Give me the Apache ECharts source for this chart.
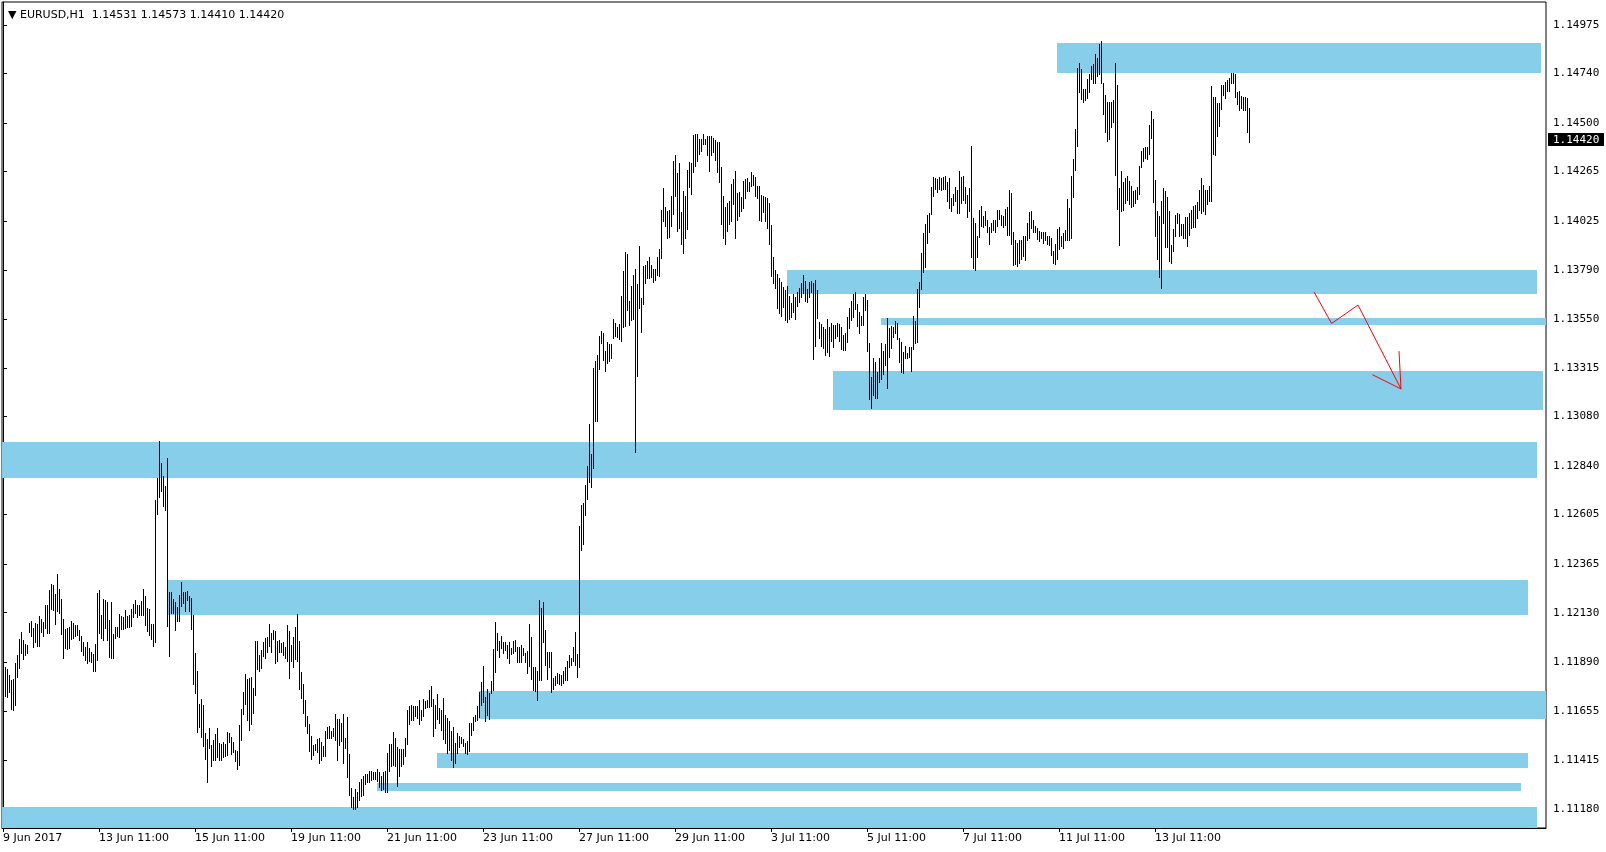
<!DOCTYPE html>
<html><head><meta charset="utf-8">
<script src="https://cdn.jsdelivr.net/npm/echarts@6/dist/echarts.min.js"></script>
<style>html,body{margin:0;padding:0;background:#fff}#chart{width:1606px;height:852px}</style>
</head><body><div id="chart"></div>
<script>
const chartTitle = '\u25BC EURUSD,H1  1.14531 1.14573 1.14410 1.14420';
const lastClose = 1.14420;
const xTickIndex = [0, 48, 96, 144, 192, 240, 288, 336, 384, 432, 480, 528, 576];
const xTickLabels = ['9 Jun 2017', '13 Jun 11:00', '15 Jun 11:00', '19 Jun 11:00', '21 Jun 11:00', '23 Jun 11:00', '27 Jun 11:00', '29 Jun 11:00', '3 Jul 11:00', '5 Jul 11:00', '7 Jul 11:00', '11 Jul 11:00', '13 Jul 11:00'];
const yTicks = [1.11180, 1.11415, 1.11655, 1.11890, 1.12130, 1.12365, 1.12605, 1.12840, 1.13080, 1.13315, 1.13550, 1.13790, 1.14025, 1.14265, 1.14500, 1.14740, 1.14975];

// hourly bar highs (bar 0 = 9 Jun 11:00)
const highs = [
1.11926,1.11868,1.11857,1.11830,1.11802,1.11810,1.11886,1.11926,1.12004,1.12039,
1.11999,1.11978,1.11975,1.12080,1.12091,1.12055,1.12078,1.12076,1.12115,1.12099,
1.12083,1.12165,1.12165,1.12238,1.12270,1.12262,1.12221,1.12318,1.12246,1.12197,
1.12100,1.12052,1.12055,1.12063,1.12091,1.12080,1.12071,1.12071,1.12047,1.12017,
1.11988,1.11962,1.11988,1.11959,1.11938,1.11931,1.11981,1.12225,1.12241,1.12120,
1.12197,1.12192,1.12181,1.12096,1.12184,1.12028,1.12063,1.12060,1.12125,1.12115,
1.12109,1.12144,1.12115,1.12120,1.12149,1.12173,1.12192,1.12165,1.12165,1.12189,
1.12246,1.12212,1.12152,1.12149,1.12076,1.12076,1.12676,1.12781,1.12959,1.12857,
1.12792,1.12744,1.12878,1.12229,1.12229,1.12197,1.12181,1.12160,1.12217,1.12278,
1.12229,1.12229,1.12233,1.12213,1.12200,1.12120,1.11934,1.11849,1.11689,1.11713,
1.11684,1.11547,1.11518,1.11571,1.11488,1.11515,1.11544,1.11571,1.11499,1.11494,
1.11504,1.11496,1.11552,1.11547,1.11528,1.11504,1.11467,1.11459,1.11588,1.11665,
1.11746,1.11834,1.11809,1.11813,1.11818,1.11765,1.11994,1.11994,1.11926,1.11950,
1.11988,1.12007,1.12012,1.12076,1.12031,1.12047,1.12042,1.11991,1.11999,1.11983,
1.11986,1.11964,1.12069,1.12040,1.11972,1.12013,1.12061,1.12122,1.11992,1.11843,
1.11787,1.11706,1.11629,1.11590,1.11532,1.11488,1.11496,1.11517,1.11525,1.11504,
1.11485,1.11556,1.11577,1.11580,1.11556,1.11572,1.11642,1.11617,1.11617,1.11596,
1.11642,1.11525,1.11625,1.11448,1.11283,1.11238,1.11279,1.11263,1.11311,1.11324,
1.11338,1.11348,1.11348,1.11364,1.11364,1.11359,1.11359,1.11375,1.11359,1.11338,
1.11359,1.11363,1.11451,1.11493,1.11493,1.11553,1.11524,1.11480,1.11469,1.11469,
1.11469,1.11524,1.11658,1.11679,1.11682,1.11677,1.11677,1.11677,1.11706,1.11661,
1.11711,1.11703,1.11708,1.11756,1.11775,1.11711,1.11684,1.11737,1.11671,1.11659,
1.11719,1.11635,1.11619,1.11606,1.11558,1.11579,1.11501,1.11546,1.11533,1.11530,
1.11517,1.11501,1.11509,1.11595,1.11598,1.11627,1.11635,1.11679,1.11748,1.11796,
1.11872,1.11721,1.11761,1.11743,1.11800,1.11953,1.12084,1.12034,1.11993,1.12017,
1.11990,1.11987,1.11974,1.11990,1.11958,1.11993,1.11998,1.11963,1.11966,1.11974,
1.11958,1.11934,1.11945,1.12075,1.12014,1.11869,1.11866,1.11850,1.12192,1.12155,
1.12180,1.12046,1.11942,1.11942,1.11940,1.11816,1.11824,1.11837,1.11832,1.11829,
1.11848,1.11869,1.11896,1.11925,1.11911,1.11965,1.12038,1.11929,1.12550,1.12650,
1.12659,1.12747,1.12838,1.13043,1.12898,1.13315,1.13346,1.13379,1.13470,1.13492,
1.13486,1.13395,1.13441,1.13432,1.13432,1.13552,1.13533,1.13515,1.13528,1.13661,
1.13786,1.13877,1.13864,1.13637,1.13713,1.13764,1.13795,1.13722,1.13906,1.13655,
1.13810,1.13815,1.13833,1.13850,1.13815,1.13795,1.13795,1.13850,1.13891,1.14079,
1.14188,1.14095,1.14073,1.14077,1.14146,1.14315,1.14346,1.14258,1.14309,1.14069,
1.14169,1.14149,1.14273,1.14313,1.14309,1.14440,1.14446,1.14446,1.14422,1.14422,
1.14446,1.14423,1.14438,1.14435,1.14435,1.14426,1.14418,1.14410,1.14407,1.14289,
1.14147,1.14096,1.14112,1.14123,1.14204,1.14230,1.14268,1.14160,1.14168,1.14144,
1.14220,1.14230,1.14233,1.14214,1.14262,1.14249,1.14241,1.14197,1.14196,1.14152,
1.14149,1.14144,1.14136,1.14115,1.14007,1.13851,1.13789,1.13770,1.13749,1.13730,
1.13705,1.13693,1.13712,1.13665,1.13628,1.13672,1.13660,1.13680,1.13704,1.13728,
1.13765,1.13738,1.13697,1.13733,1.13736,1.13725,1.13741,1.13693,1.13539,1.13526,
1.13515,1.13504,1.13552,1.13515,1.13531,1.13523,1.13523,1.13534,1.13526,1.13515,
1.13475,1.13482,1.13563,1.13607,1.13640,1.13671,1.13684,1.13624,1.13587,1.13566,
1.13656,1.13673,1.13644,1.13434,1.13273,1.13361,1.13342,1.13294,1.13361,1.13434,
1.13397,1.13431,1.13555,1.13510,1.13518,1.13511,1.13542,1.13531,1.13458,1.13439,
1.13390,1.13421,1.13385,1.13418,1.13415,1.13566,1.13542,1.13695,1.13732,1.13869,
1.13966,1.14011,1.14055,1.14063,1.14192,1.14237,1.14232,1.14229,1.14237,1.14235,
1.14240,1.14245,1.14216,1.14232,1.14139,1.14155,1.14192,1.14176,1.14268,1.14240,
1.14244,1.14192,1.14152,1.14187,1.14389,1.14039,1.14015,1.13953,1.14079,1.14098,
1.14050,1.14075,1.14029,1.13996,1.14016,1.14032,1.14032,1.14080,1.14080,1.14056,
1.14048,1.14085,1.14096,1.14177,1.14161,1.13972,1.13935,1.13919,1.13935,1.13935,
1.13954,1.13954,1.14016,1.14069,1.14075,1.14030,1.14003,1.13991,1.13979,1.13972,
1.13972,1.13971,1.13954,1.13951,1.13943,1.13882,1.13916,1.13988,1.13995,1.13954,
1.13967,1.13983,1.14133,1.14091,1.14245,1.14327,1.14472,1.14766,1.14790,1.14762,
1.14666,1.14666,1.14714,1.14738,1.14777,1.14787,1.14835,1.14817,1.14883,1.14895,
1.14693,1.14637,1.14604,1.14601,1.14604,1.14612,1.14790,1.14685,1.14188,1.14269,
1.14217,1.14236,1.14245,1.14220,1.14196,1.14172,1.14177,1.14190,1.14293,1.14365,
1.14378,1.14382,1.14382,1.14491,1.14556,1.14520,1.14225,1.14075,1.14051,1.14123,
1.14185,1.14172,1.14144,1.14075,1.13911,1.13988,1.14056,1.14064,1.14059,1.14012,
1.14012,1.14044,1.14043,1.14067,1.14080,1.14099,1.14104,1.14120,1.14177,1.14233,
1.14201,1.14177,1.14177,1.14193,1.14680,1.14628,1.14628,1.14596,1.14596,1.14685,
1.14685,1.14698,1.14709,1.14717,1.14741,1.14741,1.14738,1.14648,1.14653,1.14633,
1.14628,1.14624,1.14620,1.14573
];

// hourly bar lows
const lows = [
1.11692,1.11725,1.11720,1.11744,1.11663,1.11657,1.11684,1.11817,1.11862,1.11934,
1.11905,1.11926,1.11934,1.12039,1.12015,1.11962,1.11986,1.11967,1.11970,1.12039,
1.12015,1.12055,1.12034,1.12034,1.12147,1.12144,1.12075,1.12139,1.12128,1.12026,
1.11913,1.11959,1.11954,1.11959,1.12002,1.12010,1.12015,1.12023,1.11999,1.11947,
1.11926,1.11902,1.11886,1.11894,1.11892,1.11846,1.11846,1.11902,1.12031,1.12007,
1.11996,1.12055,1.11999,1.11918,1.11913,1.11913,1.12007,1.12015,1.12013,1.12052,
1.12052,1.12055,1.12059,1.12063,1.12067,1.12109,1.12128,1.12109,1.12120,1.12120,
1.12117,1.12071,1.12042,1.12020,1.12004,1.11967,1.11988,1.12608,1.12692,1.12717,
1.12647,1.12625,1.12067,1.11921,1.12128,1.12131,1.12047,1.12088,1.12088,1.12163,
1.12176,1.12139,1.12192,1.12136,1.12052,1.11786,1.11741,1.11555,1.11575,1.11528,
1.11486,1.11423,1.11313,1.11475,1.11386,1.11415,1.11418,1.11434,1.11415,1.11418,
1.11431,1.11437,1.11442,1.11504,1.11447,1.11454,1.11410,1.11375,1.11391,1.11512,
1.11641,1.11689,1.11612,1.11563,1.11592,1.11647,1.11733,1.11857,1.11850,1.11862,
1.11921,1.11910,1.11938,1.11970,1.11942,1.12004,1.11889,1.11894,1.11942,1.11938,
1.11926,1.11913,1.11896,1.11814,1.11895,1.11867,1.11908,1.11896,1.11763,1.11717,
1.11645,1.11580,1.11548,1.11461,1.11421,1.11443,1.11464,1.11456,1.11404,1.11419,
1.11435,1.11437,1.11525,1.11525,1.11525,1.11532,1.11513,1.11416,1.11492,1.11508,
1.11403,1.11477,1.11335,1.11246,1.11190,1.11182,1.11182,1.11190,1.11222,1.11242,
1.11246,1.11303,1.11311,1.11311,1.11322,1.11324,1.11327,1.11314,1.11287,1.11271,
1.11279,1.11263,1.11263,1.11364,1.11388,1.11392,1.11388,1.11292,1.11338,1.11388,
1.11400,1.11437,1.11496,1.11590,1.11609,1.11613,1.11629,1.11622,1.11590,1.11609,
1.11629,1.11667,1.11675,1.11675,1.11679,1.11535,1.11574,1.11616,1.11595,1.11563,
1.11519,1.11501,1.11450,1.11466,1.11417,1.11385,1.11405,1.11450,1.11482,1.11501,
1.11485,1.11450,1.11445,1.11463,1.11538,1.11563,1.11608,1.11611,1.11627,1.11684,
1.11700,1.11608,1.11635,1.11614,1.11743,1.11756,1.11845,1.11950,1.11917,1.11961,
1.11934,1.11950,1.11913,1.11888,1.11930,1.11937,1.11945,1.11893,1.11893,1.11893,
1.11925,1.11893,1.11840,1.11872,1.11809,1.11756,1.11753,1.11708,1.11804,1.11804,
1.11990,1.11877,1.11809,1.11866,1.11748,1.11761,1.11780,1.11792,1.11785,1.11780,
1.11792,1.11806,1.11802,1.11869,1.11878,1.11896,1.11878,1.11820,1.11865,1.12434,
1.12465,1.12605,1.12679,1.12765,1.12738,1.12832,1.13059,1.13059,1.13310,1.13434,
1.13355,1.13301,1.13337,1.13350,1.13361,1.13461,1.13470,1.13465,1.13455,1.13443,
1.13515,1.13520,1.13595,1.13524,1.13546,1.13550,1.12910,1.13274,1.13606,1.13488,
1.13622,1.13724,1.13751,1.13751,1.13755,1.13733,1.13741,1.13764,1.13759,1.13846,
1.14024,1.14004,1.13942,1.13950,1.14000,1.14059,1.14146,1.13977,1.13991,1.13913,
1.13873,1.13946,1.13986,1.14191,1.14155,1.14264,1.14291,1.14315,1.14349,1.14367,
1.14397,1.14397,1.14346,1.14268,1.14346,1.14362,1.14322,1.14265,1.14217,1.14012,
1.13946,1.13914,1.13978,1.14010,1.14026,1.14109,1.13946,1.14031,1.14052,1.14075,
1.14091,1.14139,1.14172,1.14173,1.14197,1.14201,1.14147,1.14139,1.14031,1.14028,
1.14068,1.14026,1.13991,1.13915,1.13762,1.13725,1.13701,1.13607,1.13583,1.13567,
1.13609,1.13547,1.13539,1.13552,1.13559,1.13584,1.13551,1.13617,1.13636,1.13656,
1.13676,1.13639,1.13633,1.13657,1.13680,1.13357,1.13423,1.13555,1.13459,1.13423,
1.13410,1.13378,1.13391,1.13373,1.13443,1.13418,1.13459,1.13467,1.13446,1.13407,
1.13402,1.13402,1.13442,1.13506,1.13547,1.13563,1.13600,1.13519,1.13485,1.13523,
1.13523,1.13595,1.13397,1.13165,1.13119,1.13184,1.13171,1.13171,1.13245,1.13261,
1.13284,1.13329,1.13216,1.13369,1.13410,1.13466,1.13482,1.13455,1.13345,1.13294,
1.13289,1.13361,1.13361,1.13369,1.13302,1.13406,1.13434,1.13439,1.13608,1.13697,
1.13781,1.13805,1.13921,1.13974,1.14058,1.14147,1.14181,1.14168,1.14179,1.14176,
1.14181,1.14181,1.14124,1.14090,1.14074,1.14103,1.14124,1.14063,1.14063,1.14111,
1.14127,1.14111,1.14047,1.14076,1.13853,1.13800,1.13789,1.13853,1.13950,1.14003,
1.13998,1.14008,1.13971,1.13916,1.13971,1.13983,1.13971,1.14003,1.14035,1.14008,
1.13995,1.14008,1.13959,1.13956,1.13916,1.13811,1.13817,1.13806,1.13822,1.13843,
1.13859,1.13838,1.13935,1.13946,1.13991,1.13971,1.13971,1.13940,1.13927,1.13943,
1.13919,1.13935,1.13914,1.13911,1.13862,1.13825,1.13819,1.13843,1.13891,1.13903,
1.13895,1.13935,1.13932,1.13932,1.13946,1.14140,1.14274,1.14387,1.14648,1.14617,
1.14600,1.14612,1.14621,1.14650,1.14712,1.14696,1.14696,1.14729,1.14737,1.14693,
1.14545,1.14459,1.14411,1.14424,1.14483,1.14504,1.14250,1.14085,1.13908,1.14072,
1.14080,1.14115,1.14128,1.14109,1.14096,1.14101,1.14112,1.14132,1.14157,1.14285,
1.14314,1.14330,1.14327,1.14349,1.14427,1.14120,1.13951,1.13843,1.13753,1.13701,
1.14015,1.13898,1.13898,1.13830,1.13822,1.13882,1.13954,1.14015,1.13951,1.13959,
1.13946,1.13946,1.13907,1.13959,1.13994,1.13999,1.13999,1.14040,1.14080,1.14064,
1.14075,1.14062,1.14107,1.14125,1.14125,1.14349,1.14346,1.14435,1.14488,1.14567,
1.14636,1.14620,1.14653,1.14656,1.14693,1.14693,1.14628,1.14593,1.14564,1.14575,
1.14564,1.14561,1.14459,1.14410
];

// support / resistance zones: [start bar, end bar, upper price, lower price]
const zones = [
  [527, 768.8, 1.14887, 1.14740],
  [392, 766.8, 1.13789, 1.13673],
  [439, 771.5, 1.13557, 1.13523],
  [415, 769.8, 1.13300, 1.13111],
  [-1, 766.8, 1.12957, 1.12784],
  [82, 762.6, 1.12289, 1.12119],
  [238, 771.5, 1.11752, 1.11616],
  [217, 762.6, 1.11451, 1.11380],
  [187, 759, 1.11308, 1.11268],
  [-1, 766.8, 1.11192, 1.11080]
];

// red projected path: [bar, price]
const arrowPath = [[655.5, 1.13683], [664.3, 1.13530], [677.5, 1.13619], [699, 1.13213]];
const arrowHead = [[684.7, 1.13282], [699, 1.13213], [698, 1.13396]];

const X_MIN = -0.5, X_MAX = 771.5;
const chart = echarts.init(document.getElementById('chart'), null, {renderer: 'canvas'});
const barData = highs.map((h, i) => [i, h, lows[i]]);

chart.setOption({
  animation: false,
  backgroundColor: '#ffffff',
  title: {
    text: chartTitle, left: 3, top: 5,
    textStyle: {fontFamily: 'DejaVu Sans', fontSize: 11, fontWeight: 'normal', color: '#000'}
  },
  grid: {left: 2, right: 60, top: 2, bottom: 24, show: true, borderColor: '#000', borderWidth: 1, backgroundColor: '#fff', outerBoundsMode: 'none'},
  xAxis: {
    type: 'value', min: X_MIN, max: X_MAX,
    splitLine: {show: false},
    axisLine: {show: true, lineStyle: {color: '#000'}},
    axisTick: {show: true, customValues: xTickIndex, length: 4, lineStyle: {color: '#000'}},
    axisLabel: {
      customValues: xTickIndex, align: 'left', margin: 5,
      fontFamily: 'DejaVu Sans', fontSize: 11, color: '#000',
      formatter: v => xTickLabels[xTickIndex.indexOf(Math.round(v))]
    }
  },
  yAxis: {
    type: 'value', position: 'right', min: 1.11088, max: 1.15086, scale: true,
    splitLine: {show: false},
    axisLine: {show: true, lineStyle: {color: '#000'}},
    axisTick: {show: true, customValues: yTicks, length: 4, lineStyle: {color: '#000'}},
    axisLabel: {
      customValues: yTicks, margin: 7,
      fontFamily: 'DejaVu Sans Mono', fontSize: 11, color: '#000',
      formatter: v => v.toFixed(5)
    }
  },
  series: [
    {
      type: 'custom', name: 'zones', clip: true, z: 1, silent: true,
      data: zones,
      encode: {x: [0, 1], y: [2, 3]},
      renderItem: (params, api) => {
        const p0 = api.coord([api.value(0), api.value(2)]);
        const p1 = api.coord([api.value(1), api.value(3)]);
        const x0 = Math.round(p0[0]), y0 = Math.round(p0[1]);
        const x1 = Math.round(p1[0]), y1 = Math.round(p1[1]);
        return {type: 'rect', shape: {x: x0, y: y0, width: x1 - x0, height: y1 - y0}, style: {fill: '#87CEEB'}};
      }
    },
    {
      type: 'custom', name: 'EURUSD', clip: true, z: 3, silent: true,
      data: barData,
      encode: {x: 0, y: [1, 2]},
      renderItem: (params, api) => {
        const t = api.coord([api.value(0), api.value(1)]);
        const b = api.coord([api.value(0), api.value(2)]);
        const x = Math.round(t[0]) + 0.5;
        return {type: 'line', shape: {x1: x, y1: Math.round(t[1]), x2: x, y2: Math.round(b[1]) + 1}, style: {stroke: '#000', lineWidth: 1}};
      }
    },
    {
      type: 'line', name: 'path', data: arrowPath, z: 4, silent: true, clip: false,
      showSymbol: false, symbol: 'none', lineStyle: {color: '#ff0000', width: 1}
    },
    {
      type: 'line', name: 'head', data: arrowHead, z: 4, silent: true, clip: false,
      showSymbol: false, symbol: 'none', lineStyle: {color: '#ff0000', width: 1}
    },
    {
      type: 'custom', name: 'price', clip: false, z: 10, silent: true,
      data: [[X_MAX, lastClose]],
      encode: {x: 0, y: 1},
      renderItem: (params, api) => {
        const p = api.coord([api.value(0), api.value(1)]);
        const x = Math.round(p[0]) + 2, y = Math.round(p[1]);
        return {
          type: 'group',
          children: [
            {type: 'rect', shape: {x: x, y: y - 7, width: 56, height: 13}, style: {fill: '#000'}},
            {type: 'text', x: x + 5, y: y, style: {text: api.value(1).toFixed(5), fill: '#fff', font: '11px "DejaVu Sans Mono"', textVerticalAlign: 'middle', verticalAlign: 'middle', align: 'left'}}
          ]
        };
      }
    }
  ]
});
</script>
</body></html>
